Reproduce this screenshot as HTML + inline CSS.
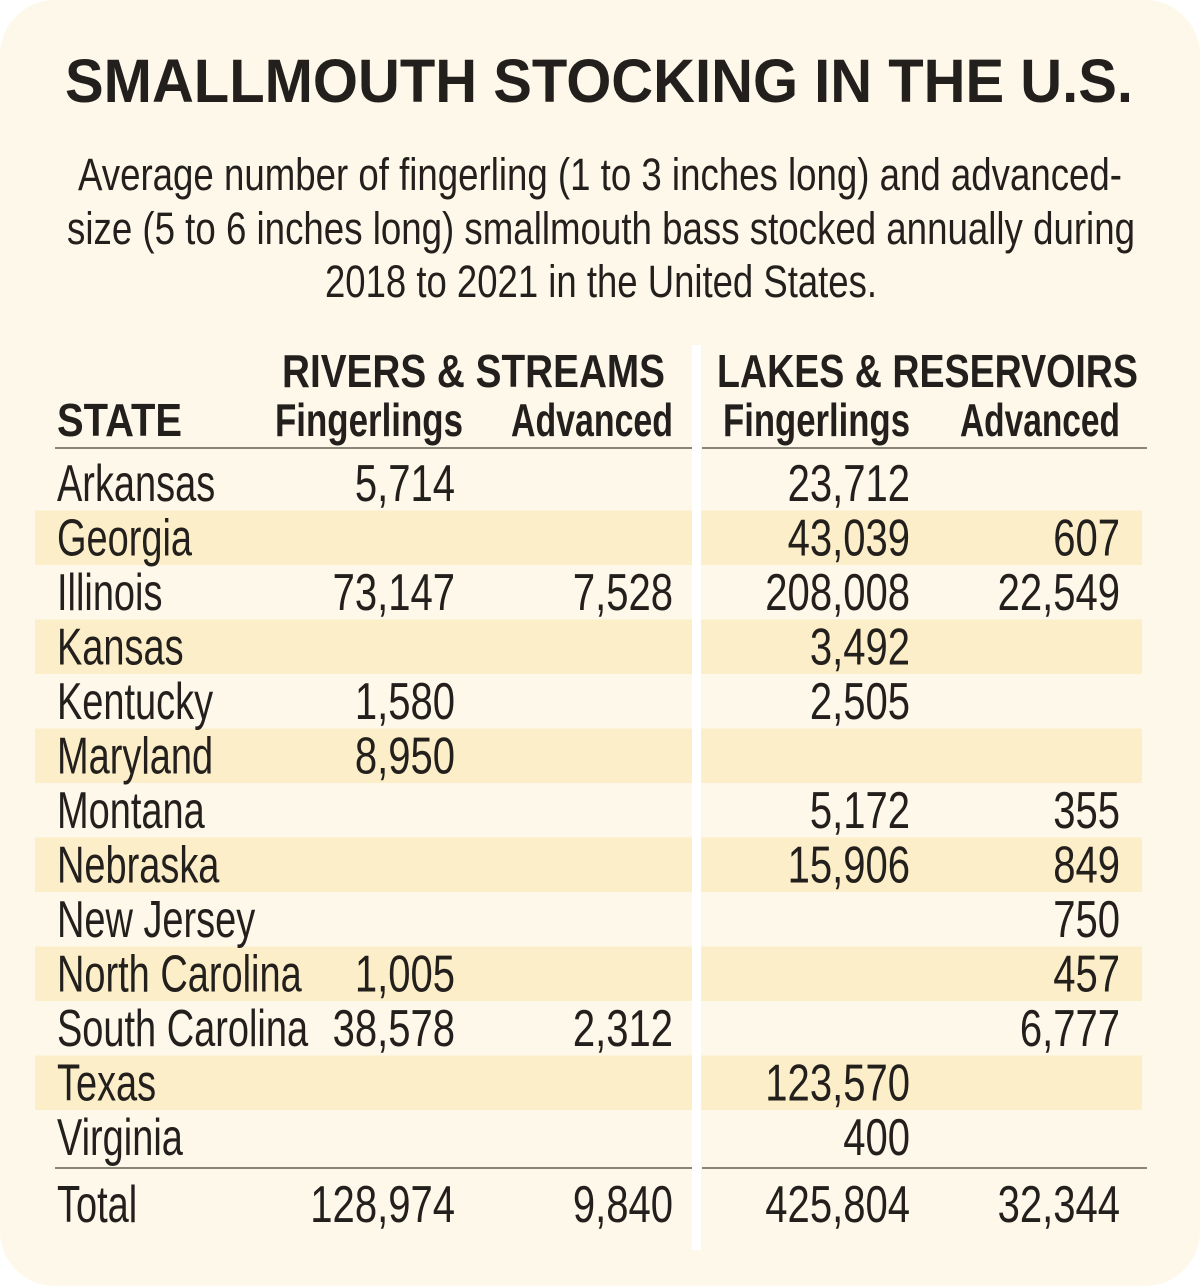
<!DOCTYPE html>
<html><head><meta charset="utf-8">
<style>
html,body{margin:0;padding:0;background:#fff;}
#wrap{position:relative;width:1200px;height:1286px;overflow:hidden;background:#fff;}
svg{position:absolute;left:0;top:0;}
text{font-family:"Liberation Sans",sans-serif;fill:#231f1c;}
</style></head>
<body>
<div id="wrap">
<svg id="s" width="1200" height="1286" viewBox="0 0 1200 1286">
  <rect x="0" y="0" width="1200" height="1286" rx="55" fill="#fdf8e9"/>
  <text x="65" y="102" font-size="61" font-weight="bold" textLength="1068" lengthAdjust="spacingAndGlyphs">SMALLMOUTH STOCKING IN THE U.S.</text>
  <text x="78" y="190" font-size="45" textLength="1044" lengthAdjust="spacingAndGlyphs">Average number of fingerling (1 to 3 inches long) and advanced-</text>
  <text x="67" y="244" font-size="45" textLength="1068" lengthAdjust="spacingAndGlyphs">size (5 to 6 inches long) smallmouth bass stocked annually during</text>
  <text x="325" y="297" font-size="45" textLength="552" lengthAdjust="spacingAndGlyphs">2018 to 2021 in the United States.</text>
  <g id="stripes"></g>
  <rect x="692" y="345" width="9" height="905" fill="#ffffff"/>
  <text x="282" y="387" font-size="46" font-weight="bold" textLength="383" lengthAdjust="spacingAndGlyphs">RIVERS &amp; STREAMS</text>
  <text x="717" y="387" font-size="46" font-weight="bold" textLength="421" lengthAdjust="spacingAndGlyphs">LAKES &amp; RESERVOIRS</text>
  <text x="57" y="436" font-size="46" font-weight="bold" textLength="125" lengthAdjust="spacingAndGlyphs">STATE</text>
  <text x="275" y="436" font-size="46" font-weight="bold" textLength="188" lengthAdjust="spacingAndGlyphs">Fingerlings</text>
  <text x="511" y="436" font-size="46" font-weight="bold" textLength="162" lengthAdjust="spacingAndGlyphs">Advanced</text>
  <text x="723" y="436" font-size="46" font-weight="bold" textLength="187" lengthAdjust="spacingAndGlyphs">Fingerlings</text>
  <text x="960" y="436" font-size="46" font-weight="bold" textLength="160" lengthAdjust="spacingAndGlyphs">Advanced</text>
  <rect x="55" y="447" width="637" height="2" fill="#8a8677"/>
  <rect x="702" y="447" width="445" height="2" fill="#8a8677"/>
  <rect x="55" y="1167" width="637" height="2" fill="#8a8677"/>
  <rect x="702" y="1167" width="445" height="2" fill="#8a8677"/>
  <g id="rows"></g>
</svg>
</div>
<script>
const states = ["Arkansas","Georgia","Illinois","Kansas","Kentucky","Maryland","Montana","Nebraska","New Jersey","North Carolina","South Carolina","Texas","Virginia"];
const riversFingerlings = [5714,null,73147,null,1580,8950,null,null,null,1005,38578,null,null];
const riversAdvanced = [null,null,7528,null,null,null,null,null,null,null,2312,null,null];
const lakesFingerlings = [23712,43039,208008,3492,2505,null,5172,15906,null,null,null,123570,400];
const lakesAdvanced = [null,607,22549,null,null,null,355,849,750,457,6777,null,null];
const totals = [128974,9840,425804,32344];

const NS="http://www.w3.org/2000/svg";
const rowsG=document.getElementById('rows');
const stripesG=document.getElementById('stripes');
const row0=483, rowH=54.5;
const colRight=[455,673,910,1120];
function fmt(v){return v.toLocaleString('en-US');}
function txt(str,x,y,anchor,name,sx){
  const t=document.createElementNS(NS,'text');
  
  
  t.setAttribute('font-size','52');
  t.setAttribute('text-anchor',anchor);
  t.setAttribute('x',x/sx);
  t.setAttribute('y',y);
  t.setAttribute('transform','scale('+sx+',1)');
  t.textContent=str;
  rowsG.appendChild(t);
}
const series=[riversFingerlings,riversAdvanced,lakesFingerlings,lakesAdvanced];
const seriesNames=['rivers-fingerlings','rivers-advanced','lakes-fingerlings','lakes-advanced'];
states.forEach((st,i)=>{
  const cy=row0+i*rowH;
  if(i%2===1){
    const r1=document.createElementNS(NS,'rect');
    
    
    r1.setAttribute('x',35);r1.setAttribute('y',cy-27);r1.setAttribute('width',657);r1.setAttribute('height',rowH);r1.setAttribute('fill','#fbeec8');
    stripesG.appendChild(r1);
    const r2=document.createElementNS(NS,'rect');
    
    
    r2.setAttribute('x',701);r2.setAttribute('y',cy-27);r2.setAttribute('width',441);r2.setAttribute('height',rowH);r2.setAttribute('fill','#fbeec8');
    stripesG.appendChild(r2);
  }
  txt(st,57,cy+18,'start','state-name',0.73);
  series.forEach((arr,j)=>{
    if(arr[i]!=null) txt(fmt(arr[i]),colRight[j],cy+18,'end',seriesNames[j]+'-value',0.77);
  });
});
txt('Total',57,1222,'start','total-label',0.73);
totals.forEach((v,j)=>txt(fmt(v),colRight[j],1222,'end','total-'+seriesNames[j],0.77));
</script>
</body></html>
